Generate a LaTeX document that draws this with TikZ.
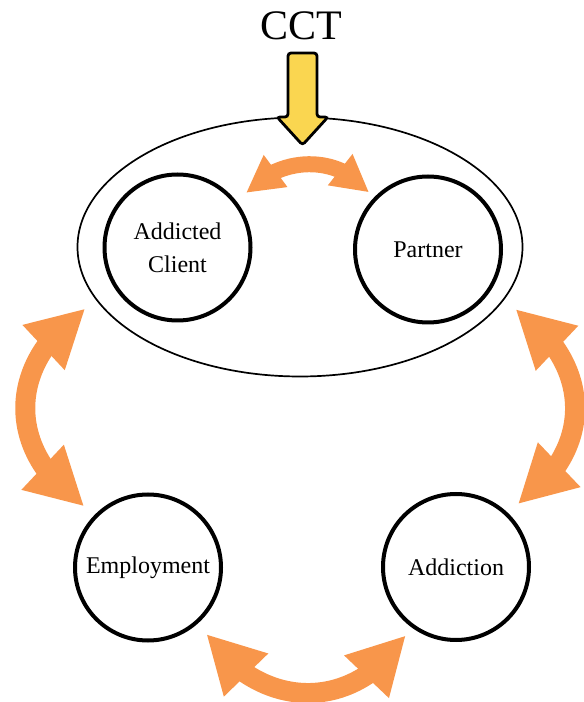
\documentclass[tikz,border=0pt]{standalone}
\usepackage{fontspec}
\setmainfont{Liberation Serif}
\usepackage{tikz}
\usetikzlibrary{arrows.meta,bending,shapes.geometric}
\definecolor{cctorange}{RGB}{248,150,75}
\definecolor{cctyellow}{RGB}{250,214,80}

\begin{document}
\begin{tikzpicture}[x=1pt,y=1pt,
   party/.style={circle,draw,line width=4pt,minimum size=146pt,inner sep=0pt,
      align=center,font=\fontsize{24}{33}\selectfont},
   bigarrow/.style={draw=cctorange,line width=20pt,
      {Triangle[flex,line width=0pt 0 0,length=56pt,width=62pt]}-{Triangle[flex,line width=0pt 0 0,length=56pt,width=62pt]}},
   smallarrow/.style={draw=cctorange,line width=16pt,
      {Triangle[flex,line width=0pt 0 0,length=36pt,width=40pt]}-{Triangle[flex,line width=0pt 0 0,length=36pt,width=40pt]}}]
   \useasboundingbox (0,0) rectangle (584,702);

   \node[ellipse,draw,line width=1.7pt,minimum width=445pt,minimum height=259pt,inner sep=0pt] (group) at (300,455) {};
   \node[party] (client)  at (177.5,454.5) {Addicted\\Client};
   \node[party] (partner) at (428,452.5)   {Partner};
   \node[party] (emp)     at (148,134.5)   {Employment};
   \node[party] (add)     at (456,135)     {Addiction};

   \node[font=\fontsize{42}{42}\selectfont,anchor=base] (cct) at (301,662) {CCT};
   \draw[fill=cctyellow,line width=2.8pt,rounded corners=3pt]
      (288,649) -- (317,649) -- (317,585) -- (328,585) -- (302.5,557) -- (277,585) -- (288,585) -- cycle;

   \draw[smallarrow,shorten <=14pt,shorten >=8pt] (client.36) to[out=57,in=123,looseness=1.1] (partner.137);
   \draw[bigarrow,shorten <=15pt,shorten >=15pt] (emp.134) to[out=150,in=210,looseness=1.32] (group.195);
   \draw[bigarrow,shorten <=15pt,shorten >=16pt] (add.48) to[out=30,in=330,looseness=1.32] (group.345);
   \draw[bigarrow,shorten <=15pt,shorten >=11pt] (emp.313) to[out=-60,in=240,looseness=1.27] (add.233);
\end{tikzpicture}
\end{document}
